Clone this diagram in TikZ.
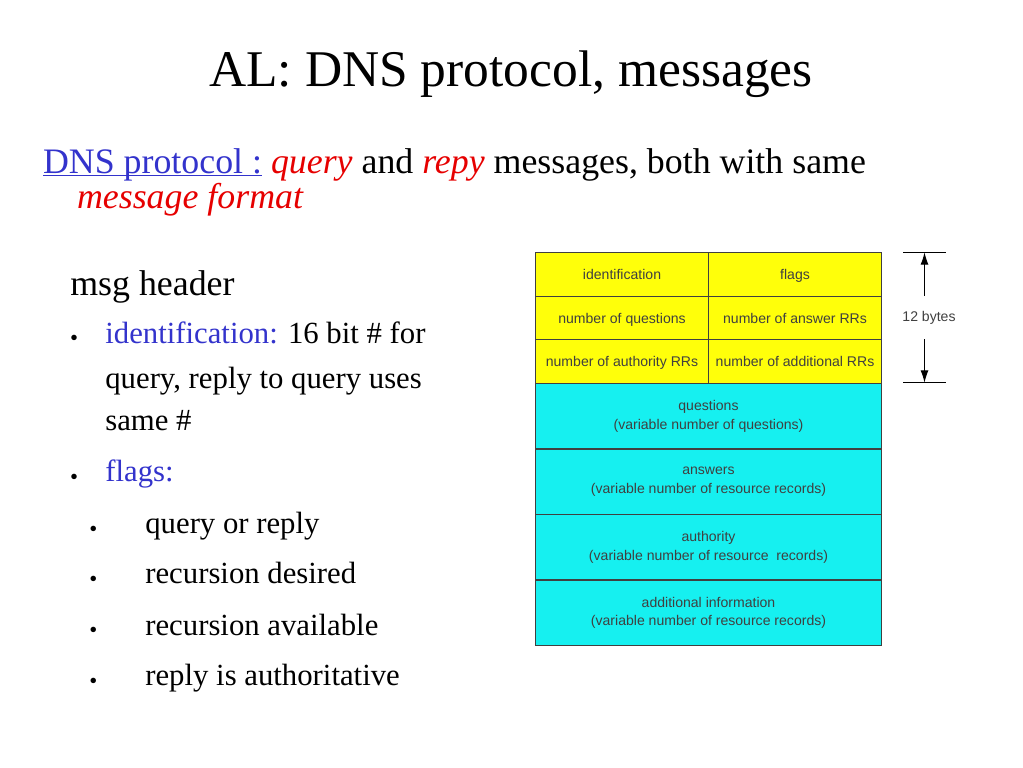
\documentclass[tikz,border=0pt]{standalone}
\usepackage{fontspec}
\setmainfont{Liberation Serif}
\newfontfamily\arialfont{Liberation Sans}
\usepackage{tikz}
\usetikzlibrary{arrows.meta}

\definecolor{hdryellow}{RGB}{255,255,10}
\definecolor{bodycyan}{RGB}{22,240,240}
\definecolor{linkblue}{RGB}{51,51,204}
\definecolor{keyred}{RGB}{230,0,0}

\tikzset{
	txt/.style={anchor=base west, inner sep=0pt, font=\fontsize{17.5}{21}\selectfont},
	dot/.style={inner sep=0pt, font=\fontsize{13}{13}\selectfont},
	hdr/.style={draw=black!75, line width=0.6pt, fill=hdryellow, anchor=north west, inner sep=0pt,
		text height=1.6ex, text depth=0.4ex,
		minimum width=3.46cm, minimum height=0.8733cm, font=\arialfont\fontsize{8}{10}\selectfont, text=black!75},
	sect/.style={draw=black!75, line width=0.6pt, fill=bodycyan, anchor=north west, inner sep=0pt, align=center,
		minimum width=6.92cm, minimum height=1.31cm, font=\arialfont\fontsize{8}{10.5}\selectfont, text=black!75}
}

\begin{document}
\begin{tikzpicture}[x=0.02cm, y=-0.02cm]

	\useasboundingbox (0, 0) rectangle (1023, 767);

	\node[anchor=base, inner sep=0pt, font=\fontsize{29.3}{34}\selectfont] (title) at (511, 87) {AL: DNS protocol, messages};

	\node[txt, font=\fontsize{20.4}{24}\selectfont] (intro) at (42.7, 173.3) {\textcolor{linkblue}{\underline{\smash{DNS protocol :}}} \textcolor{keyred}{\textit{query}} and \textcolor{keyred}{\textit{repy}} messages, both with same};
	\node[txt, font=\fontsize{20.4}{24}\selectfont] (intro2) at (76.7, 208.3) {\textcolor{keyred}{\textit{message format}}};

	\node[txt, font=\fontsize{20.4}{24}\selectfont] (header) at (70, 295) {msg header};

	\node[dot] (b1) at (74, 340.5) {\textbullet};
	\node[txt] (ident) at (105, 343.3) {\textcolor{linkblue}{identification:} 16 bit \# for};
	\node[txt] (ident2) at (105, 388.3) {query, reply to query uses};
	\node[txt] (ident3) at (105, 430) {same \#};

	\node[dot] (b2) at (74, 479.5) {\textbullet};
	\node[txt] (flags) at (105, 481.7) {\textcolor{linkblue}{flags:}};

	\node[dot] (s1) at (93.3, 531) {\textbullet};
	\node[txt] (qr) at (145, 533.3) {query or reply};
	\node[dot] (s2) at (93.3, 581) {\textbullet};
	\node[txt] (rd) at (145, 583.3) {recursion desired};
	\node[dot] (s3) at (93.3, 632.5) {\textbullet};
	\node[txt] (ra) at (145, 635) {recursion available};
	\node[dot] (s4) at (93.3, 683) {\textbullet};
	\node[txt] (aa) at (145, 685.5) {reply is authoritative};

	\node[hdr] (idf) at (535, 252.3) {identification};
	\node[hdr] (flg) at (708, 252.3) {flags};
	\node[hdr] (nq) at (535, 296) {number of questions};
	\node[hdr] (nan) at (708, 296) {number of answer RRs};
	\node[hdr] (nau) at (535, 339.3) {number of authority RRs};
	\node[hdr] (nad) at (708, 339.3) {number of additional RRs};

	\node[sect] (qs) at (535, 383) {questions\\(variable number of questions)};
	\node[sect] (ans) at (535, 448.5) {answers\\(variable number of resource records)};
	\node[sect] (auth) at (535, 514) {authority\\(variable number of resource\ \ records)};
	\node[sect] (add) at (535, 579.5) {additional information\\(variable number of resource records)};

	\coordinate (tl) at (903, 252.3);
	\coordinate (tr) at (946, 252.3);
	\coordinate (bl) at (903, 382.7);
	\coordinate (br) at (946, 382.7);
	\coordinate (top) at (924.5, 252.3);
	\coordinate (bot) at (924.5, 382.7);
	\node[inner sep=0pt, minimum height=0.86cm, font=\arialfont\fontsize{8}{10}\selectfont, text=black!75] (bytes) at (929, 317.5) {12 bytes};

	\path[-, line width=0.6pt] (tl) edge (tr);
	\path[-, line width=0.6pt] (bl) edge (br);
	\path[-{Latex[length=7pt, width=4.5pt]}, line width=0.6pt] (bytes.north -| top) edge (top);
	\path[-{Latex[length=7pt, width=4.5pt]}, line width=0.6pt] (bytes.south -| bot) edge (bot);

\end{tikzpicture}
\end{document}
